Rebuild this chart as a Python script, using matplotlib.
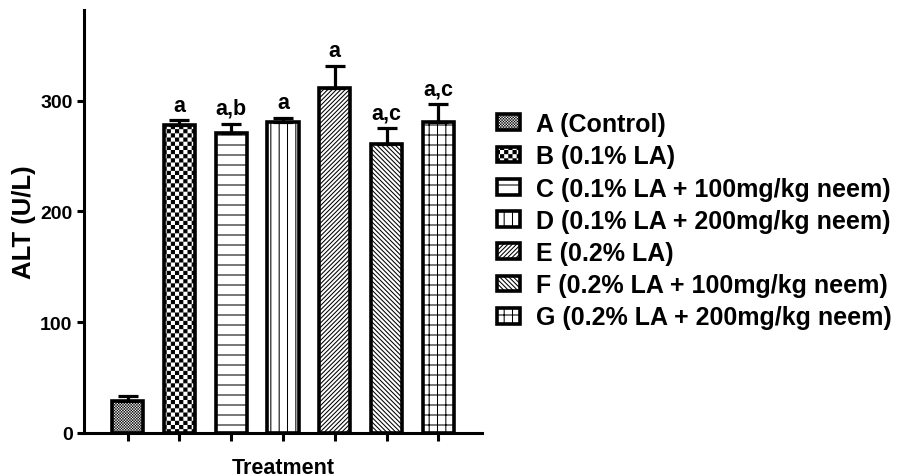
import numpy as np
import matplotlib
matplotlib.use('Agg')
import matplotlib.pyplot as plt
import matplotlib.hatch as mhatch
from matplotlib.path import Path

# ---------------- data ----------------
groups = ['A (Control)', 'B (0.1% LA)', 'C (0.1% LA + 100mg/kg neem)',
          'D (0.1% LA + 200mg/kg neem)', 'E (0.2% LA)',
          'F (0.2% LA + 100mg/kg neem)', 'G (0.2% LA + 200mg/kg neem)']
alt_mean = [29, 278, 271, 281, 311, 261, 281]
alt_sem = [4, 4, 8, 3, 20, 14, 16]
sig_labels = ['', 'a', 'a,b', 'a', 'a', 'a,c', 'a,c']
yticks = [0, 100, 200, 300]
xlabel = 'Treatment'
ylabel = 'ALT (U/L)'

# ---------------- custom hatch patterns ----------------
HATCH_LW = 0.75  # points
SHRINK = HATCH_LW / 72.0 / 2.0  # in hatch-cell units (1 unit = 1 inch)


class HLines(mhatch.HorizontalHatch):
    def __init__(self, hatch, density):
        self.num_lines = 10 * (hatch.count('-') + hatch.count('+'))
        self.num_vertices = self.num_lines * 2


class VLines(mhatch.VerticalHatch):
    def __init__(self, hatch, density):
        self.num_lines = 12 * (hatch.count('|') + hatch.count('+'))
        self.num_vertices = self.num_lines * 2


class NELines(mhatch.HatchPatternBase):
    def __init__(self, hatch, density):
        self.m = 23 * hatch.count('/')
        self.num_vertices = (2 * self.m + 1) * 2 if self.m else 0

    def set_vertices_and_codes(self, vertices, codes):
        c = np.arange(-self.m, self.m + 1) / self.m
        vertices[0::2, 0] = c
        vertices[0::2, 1] = 0.0
        vertices[1::2, 0] = c + 1.0
        vertices[1::2, 1] = 1.0
        codes[0::2] = Path.MOVETO
        codes[1::2] = Path.LINETO


class SELines(mhatch.HatchPatternBase):
    def __init__(self, hatch, density):
        self.m = 22 * hatch.count('\\')
        self.num_vertices = (2 * self.m + 1) * 2 if self.m else 0

    def set_vertices_and_codes(self, vertices, codes):
        c = np.arange(0, 2 * self.m + 1) / self.m
        vertices[0::2, 0] = c
        vertices[0::2, 1] = 0.0
        vertices[1::2, 0] = c - 1.0
        vertices[1::2, 1] = 1.0
        codes[0::2] = Path.MOVETO
        codes[1::2] = Path.LINETO


class Checker(mhatch.HatchPatternBase):
    def __init__(self, hatch, density):
        self.n = 24 * hatch.count('o') + 72 * hatch.count('O')
        if self.n:
            self.cells = [(i, j) for i in range(self.n) for j in range(self.n)
                          if (i + j) % 2 == 0]
        else:
            self.cells = []
        self.num_vertices = 5 * len(self.cells)

    def set_vertices_and_codes(self, vertices, codes):
        c = 1.0 / self.n
        d = min(0.45 * c, SHRINK)
        for k, (i, j) in enumerate(self.cells):
            x0, y0 = i * c + d, j * c + d
            x1, y1 = (i + 1) * c - d, (j + 1) * c - d
            vertices[5 * k:5 * k + 5] = [(x0, y0), (x1, y0), (x1, y1), (x0, y1), (x0, y0)]
            codes[5 * k:5 * k + 5] = [Path.MOVETO, Path.LINETO, Path.LINETO,
                                      Path.LINETO, Path.CLOSEPOLY]


mhatch._hatch_types = [HLines, VLines, NELines, SELines, Checker]

hatches = ['O', 'o', '-', '|', '/', '\\', '+']

# ---------------- figure ----------------
plt.rcParams['font.family'] = ['Liberation Sans', 'DejaVu Sans']
plt.rcParams['font.weight'] = 'bold'
plt.rcParams['hatch.linewidth'] = HATCH_LW
plt.rcParams['hatch.color'] = 'black'

fig = plt.figure(figsize=(8.99, 4.77), dpi=100)
ax = fig.add_axes([84 / 899, 43 / 477, 398 / 899, 423 / 477])

x = np.arange(len(groups))
handles = []
for i in range(len(groups)):
    b = ax.bar(x[i], alt_mean[i], width=0.6, color='white', edgecolor='black',
               linewidth=2.6, hatch=hatches[i], label=groups[i], zorder=2)
    handles.append(b[0])

ax.errorbar(x, alt_mean, yerr=[np.zeros(len(x)), alt_sem], fmt='none',
            ecolor='black', elinewidth=2.3, capsize=7, capthick=2.3, zorder=3)

for i in range(len(groups)):
    if sig_labels[i]:
        ax.annotate(sig_labels[i], (x[i], alt_mean[i] + alt_sem[i]),
                    xytext=(0, 3.5), textcoords='offset points',
                    ha='center', va='bottom', fontsize=15.5, fontweight='bold')

ax.set_xlim(-0.843, len(groups) - 1 + 0.843)
ax.set_ylim(0, 381.7)
ax.set_yticks(yticks)
ax.set_xticks(x)
ax.tick_params(axis='x', labelbottom=False, length=6, width=2.2, direction='out')
ax.tick_params(axis='y', length=5.2, width=2.2, labelsize=14, pad=3, direction='out')
for lbl in ax.get_yticklabels():
    lbl.set_fontweight('bold')

for s in ['top', 'right']:
    ax.spines[s].set_visible(False)
for s in ['left', 'bottom']:
    ax.spines[s].set_linewidth(2.2)

ax.set_xlabel(xlabel, fontsize=15.5, fontweight='bold', labelpad=11)
ax.set_ylabel(ylabel, fontsize=18.5, fontweight='bold', labelpad=3)

ax.legend(handles, groups, loc='upper left',
          bbox_to_anchor=(497 / 899, 1 - 113 / 477), bbox_transform=fig.transFigure,
          frameon=False, prop={'family': 'Liberation Sans', 'weight': 'bold', 'size': 18},
          handlelength=0.92, handleheight=0.6, handletextpad=0.65,
          labelspacing=0.33, borderpad=0, borderaxespad=0)

fig.savefig('out.png', dpi=100)
